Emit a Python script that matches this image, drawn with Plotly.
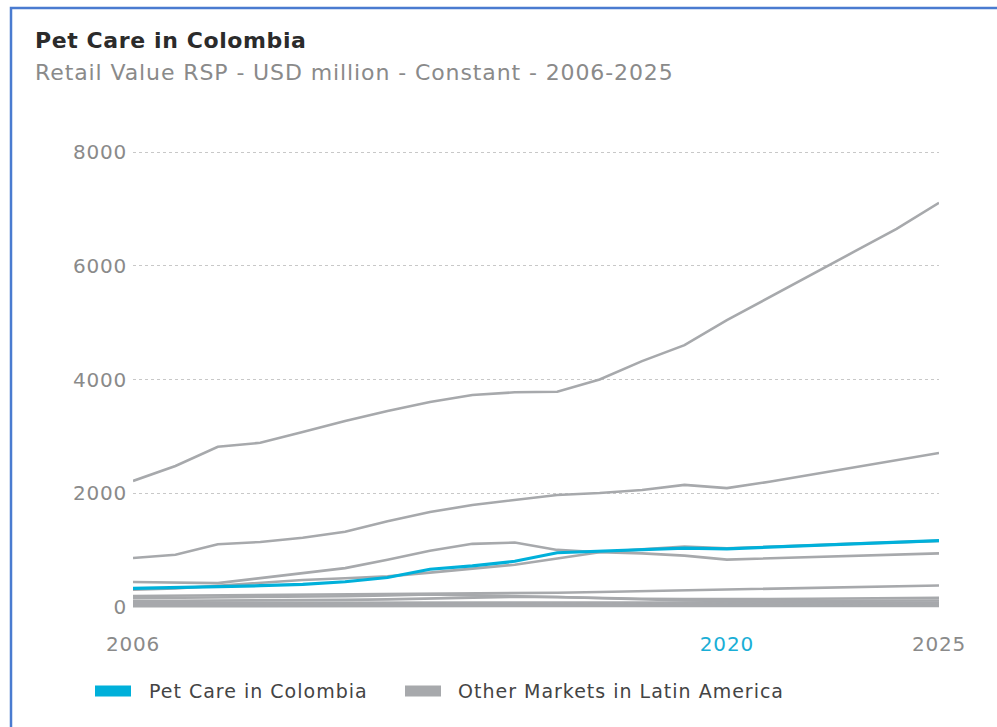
import plotly.graph_objects as go

years = list(range(2006, 2026))

colombia = [322, 335, 355, 370, 395, 440, 515, 660, 720, 800,
            950, 975, 1000, 1030, 1020, 1050, 1080, 1110, 1140, 1165]

other_markets = {
    "Brazil": [2215, 2478, 2815, 2885, 3076, 3269, 3445, 3603, 3726, 3775,
               3785, 4000, 4323, 4605, 5044, 5450, 5850, 6250, 6650, 7110],
    "Mexico": [858, 914, 1100, 1140, 1213, 1320, 1505, 1667, 1790, 1880,
               1968, 2003, 2056, 2144, 2088, 2200, 2330, 2450, 2580, 2707],
    "Argentina": [434, 430, 416, 504, 590, 680, 826, 984, 1107, 1130,
                  1000, 960, 940, 900, 830, 850, 870, 890, 910, 940],
    "Chile": [300, 320, 370, 420, 470, 500, 535, 600, 665, 740,
              850, 960, 1010, 1060, 1030, 1050, 1080, 1110, 1140, 1160],
    "Peru": [190, 195, 200, 200, 205, 210, 215, 225, 230, 235,
             245, 260, 275, 290, 295, 310, 325, 340, 355, 375],
    "Venezuela": [150, 155, 160, 165, 175, 185, 200, 215, 200, 185,
                  165, 150, 140, 135, 130, 135, 140, 145, 150, 155],
    "Ecuador": [100, 102, 105, 110, 115, 120, 130, 145, 160, 175,
                170, 150, 120, 110, 100, 102, 104, 106, 108, 110],
    "Uruguay": [70, 70, 72, 72, 74, 75, 76, 78, 80, 80,
                78, 76, 74, 72, 70, 71, 72, 73, 74, 75],
    "Costa Rica": [45, 46, 47, 48, 49, 50, 52, 54, 55, 56,
                   56, 55, 55, 54, 52, 53, 54, 55, 56, 57],
    "Guatemala": [25, 26, 27, 28, 29, 30, 31, 32, 33, 34,
                  34, 33, 33, 32, 31, 32, 33, 34, 35, 36],
    "Bolivia": [10, 10, 11, 11, 12, 12, 13, 13, 14, 14,
                14, 14, 14, 13, 13, 13, 14, 14, 15, 15],
}

title_text = "Pet Care in Colombia"
subtitle_text = "Retail Value RSP - USD million - Constant - 2006-2025"
legend_names = ["Pet Care in Colombia", "Other Markets in Latin America"]
y_ticks = [0, 2000, 4000, 6000, 8000]
x_ticks = [2006, 2020, 2025]

BLUE = "#00b0da"
GRAY = "#a7a9ac"
FONT = "DejaVu Sans"

W, H = 997, 727
L, R, T, B = 133, 939, 149.7, 609.3


def px(x):
    return (x - L) / (R - L)


def py(y):
    return (B - y) / (B - T)


def spaced(txt, ls, color=None):
    style = "letter-spacing:%spx" % ls
    if color:
        style += ";color:" + color
    return "<span style='%s'>%s</span>" % (style, txt)


fig = go.Figure()
for name, vals in other_markets.items():
    fig.add_trace(go.Scatter(x=years, y=vals, mode="lines", name=name,
                             line=dict(color=GRAY, width=2.6),
                             showlegend=False, hoverinfo="skip"))
fig.add_trace(go.Scatter(x=years, y=colombia, mode="lines", name=legend_names[0],
                         line=dict(color=BLUE, width=3.2), showlegend=False))

x_text = [spaced("2006", 0.8), spaced("2020", 0.8, "#1aaed6"), spaced("2025", 0.8)]
y_text = [spaced(str(v), 0.8) for v in y_ticks]

fig.update_layout(
    width=W, height=H,
    margin=dict(l=L, r=W - R, t=T, b=H - B, pad=0),
    paper_bgcolor="white", plot_bgcolor="white",
    font=dict(family=FONT, color="#8a8a8a"),
    showlegend=False,
    xaxis=dict(range=[2006, 2025], tickvals=x_ticks, ticktext=x_text,
               showgrid=False, zeroline=False, showline=False, ticks="",
               tickfont=dict(size=20, color="#8a8a8a", family=FONT),
               ticklabelstandoff=21),
    yaxis=dict(range=[-40, 8040], tickvals=y_ticks, ticktext=y_text,
               showgrid=True, gridcolor="#c8c8c8", griddash="dot", gridwidth=1,
               zeroline=False, showline=False, ticks="",
               tickfont=dict(size=20, color="#8a8a8a", family=FONT),
               ticklabelstandoff=5),
)

annotations = [
    dict(text="<b>" + spaced(title_text, 0.6) + "</b>", x=px(33), y=py(40),
         xanchor="left", yanchor="middle",
         font=dict(size=22, color="#2b2b2b", family=FONT)),
    dict(text=spaced(subtitle_text, 0.9), x=px(33), y=py(72), xanchor="left",
         yanchor="middle", font=dict(size=22, color="#8a8a8a", family=FONT)),
    dict(text=spaced(legend_names[0], 1.0), x=px(147), y=py(691), xanchor="left",
         yanchor="middle", font=dict(size=19, color="#444444", family=FONT)),
    dict(text=spaced(legend_names[1], 1.0), x=px(456), y=py(691), xanchor="left",
         yanchor="middle", font=dict(size=19, color="#444444", family=FONT)),
]
for a in annotations:
    a.update(xref="paper", yref="paper", showarrow=False)
fig.update_layout(annotations=annotations)

shapes = [
    dict(type="rect", x0=px(95), x1=px(131), y0=py(686), y1=py(697),
         fillcolor=BLUE, line=dict(width=0)),
    dict(type="rect", x0=px(405), x1=px(441), y0=py(686), y1=py(697),
         fillcolor=GRAY, line=dict(width=0)),
    dict(type="rect", x0=px(11), x1=px(1005), y0=py(7.5), y1=py(740),
         fillcolor="rgba(0,0,0,0)", line=dict(color="#4a7bd0", width=2.5)),
]
for s in shapes:
    s.update(xref="paper", yref="paper", layer="above")
fig.update_layout(shapes=shapes)

fig.write_html("out.html")
